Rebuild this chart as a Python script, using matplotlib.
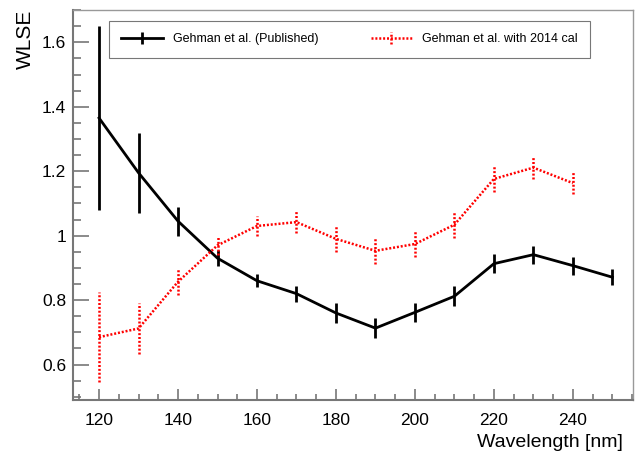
import numpy as np
import matplotlib.pyplot as plt
from matplotlib.ticker import MultipleLocator

plt.rcParams['font.family'] = ['Liberation Sans', 'DejaVu Sans']

# published values
wl_pub = [120, 130, 140, 150, 160, 170, 180, 190, 200, 210, 220, 230, 240, 250]
wlse_pub = [1.365, 1.195, 1.045, 0.93, 0.86, 0.82, 0.76, 0.713, 0.762, 0.812, 0.913, 0.941, 0.907, 0.871]
err_pub = [0.285, 0.125, 0.045, 0.025, 0.02, 0.025, 0.03, 0.03, 0.03, 0.031, 0.03, 0.028, 0.028, 0.025]

# with 2014 calibration
wl_cal = [120, 130, 140, 150, 160, 170, 180, 190, 200, 210, 220, 230, 240]
wlse_cal = [0.685, 0.712, 0.857, 0.97, 1.03, 1.042, 0.99, 0.953, 0.974, 1.034, 1.176, 1.211, 1.163]
err_cal = [0.14, 0.08, 0.04, 0.03, 0.03, 0.035, 0.042, 0.042, 0.04, 0.04, 0.04, 0.035, 0.035]

fig = plt.figure(figsize=(6.38, 4.57), dpi=100)
ax = fig.add_axes([0.1144, 0.1247, 0.8776, 0.8533])

ax.errorbar(wl_pub, wlse_pub, yerr=err_pub, color='black', lw=2.0, elinewidth=2.0,
            capsize=0, label='Gehman et al. (Published)')
dots = (0, (0.8, 0.75))
eb = ax.errorbar(wl_cal, wlse_cal, yerr=err_cal, color='red', lw=1.8, elinewidth=1.8,
                 ls=dots, capsize=0, label='Gehman et al. with 2014 cal')
eb[2][0].set_linestyle(dots)

ax.set_xlim(113.4, 255.2)
ax.set_ylim(0.49, 1.70)
ax.xaxis.set_major_locator(MultipleLocator(20))
ax.xaxis.set_minor_locator(MultipleLocator(5))
ax.yaxis.set_major_locator(MultipleLocator(0.2))
ax.yaxis.set_minor_locator(MultipleLocator(0.05))
ax.yaxis.set_major_formatter(plt.FuncFormatter(lambda v, p: ('%g' % round(v, 2))))

ax.tick_params(which='both', direction='in', color='#777777', width=1.2, labelsize=12.5)
ax.tick_params(axis='x', which='major', length=8, pad=9)
ax.tick_params(axis='x', which='minor', length=4.3)
ax.tick_params(axis='y', which='major', length=11.5, pad=5)
ax.tick_params(axis='y', which='minor', length=5.8)
for s in ['left', 'bottom']:
    ax.spines[s].set_color('#777777')
    ax.spines[s].set_linewidth(1.5)
for s in ['right', 'top']:
    ax.spines[s].set_color('#999999')
    ax.spines[s].set_linewidth(1.0)

ax.set_xlabel('Wavelength [nm]', fontsize=14, loc='right')
ax.xaxis.set_label_coords(0.982, -0.088)
ax.set_ylabel('WLSE', fontsize=15, loc='top')
ax.yaxis.set_label_coords(-0.068, 1.0)

leg = ax.legend(loc='upper left', bbox_to_anchor=(0.0643, 0.972, 0.859, 0.0), ncol=2,
                mode='expand', borderaxespad=0, fontsize=9, frameon=True, fancybox=False,
                edgecolor='#555555', borderpad=1.0, handlelength=3.3)
leg.get_frame().set_linewidth(0.8)

fig.savefig('out.png', dpi=100)
